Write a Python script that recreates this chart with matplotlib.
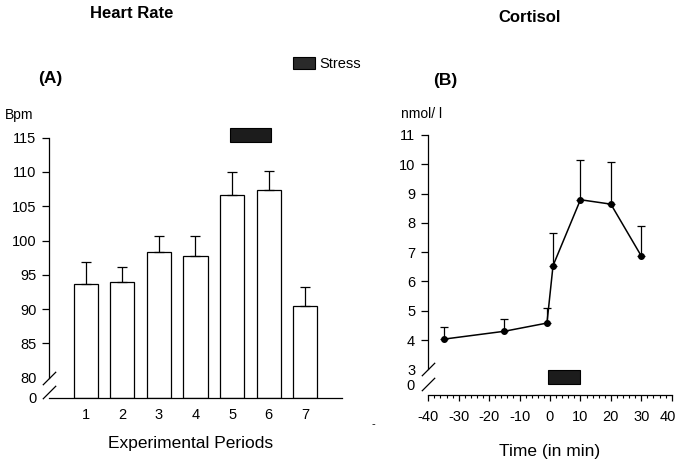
import numpy as np
import matplotlib
matplotlib.use("Agg")
import matplotlib.pyplot as plt
from matplotlib.path import Path
from matplotlib.patches import Rectangle
from matplotlib.transforms import ScaledTranslation

plt.rcParams['font.family'] = ['Liberation Sans', 'DejaVu Sans']

# ---------------- data ----------------
periods = [1, 2, 3, 4, 5, 6, 7]
hr_mean = [93.7, 93.9, 98.4, 97.7, 106.6, 107.4, 90.5]
hr_err = [3.2, 2.3, 2.3, 2.9, 3.4, 2.8, 2.7]
hr_yticks = [85, 90, 95, 100, 105, 110, 115]
hr_stress = (5, 6)

time_min = [-35, -15, -1, 1, 10, 20, 30]
cort_mean = [4.03, 4.30, 4.58, 6.54, 8.79, 8.64, 6.87]
cort_err = [0.40, 0.42, 0.50, 1.10, 1.37, 1.43, 1.02]
cort_yticks = [4, 5, 6, 7, 8, 9, 10, 11]
time_ticks = [-40, -30, -20, -10, 0, 10, 20, 30, 40]
cort_stress = (0, 10)

W, H = 678, 465
fig = plt.figure(figsize=(W / 100, H / 100), dpi=100)


def px(x, y):
    return x / W, 1 - y / H


def broken(brk, gap):
    def fwd(y):
        y = np.asarray(y, float)
        return np.where(y < brk, y * gap / brk, y - brk + gap)

    def inv(u):
        u = np.asarray(u, float)
        return np.where(u < gap, u * brk / gap, u - gap + brk)
    return fwd, inv


slash = Path([(-1, -1), (1, 1)], [Path.MOVETO, Path.LINETO])


def break_mark(ax, yval, dy_px=0.0):
    off = ScaledTranslation(0, dy_px / 100, fig.dpi_scale_trans)
    ax.plot([0], [yval], marker=slash, ms=9.6, mew=0.9, color='black',
            transform=ax.get_yaxis_transform() + off, clip_on=False)


# ---------------- panel A ----------------
axA = fig.add_axes([49.3 / W, (H - 397.7) / H, (341.7 - 49.3) / W, (397.7 - 137.7) / H])
axA.set_yscale('function', functions=broken(80, 2.92))
axA.set_xlim(0, 8)
axA.set_ylim(0, 115)
axA.bar(periods, hr_mean, width=0.66, color='white', edgecolor='black', linewidth=0.9, zorder=2)
axA.errorbar(periods, hr_mean, yerr=[np.zeros(len(hr_err)), hr_err], fmt='none',
             ecolor='black', elinewidth=0.9, capsize=3.6, capthick=0.9, zorder=3)
for s in ['top', 'right']:
    axA.spines[s].set_visible(False)
axA.spines['left'].set_bounds(80, 115)
for s in ['left', 'bottom']:
    axA.spines[s].set_linewidth(0.9)
axA.set_yticks(hr_yticks)
axA.set_yticklabels([str(v) for v in hr_yticks])
axA.set_yticks([0, 80], minor=True)
axA.set_yticklabels(['0', '80'], minor=True)
axA.tick_params(axis='y', which='major', length=4.8, width=0.9, pad=4.5, labelsize=10.5)
axA.tick_params(axis='y', which='minor', length=0, pad=9.3, labelsize=10.5)
axA.set_xticks(periods)
axA.set_xticklabels([str(p) for p in periods])
axA.tick_params(axis='x', length=0, pad=7.5, labelsize=10.5)
break_mark(axA, 80)
break_mark(axA, 0, 5.7)
axA.add_patch(Rectangle((hr_stress[0] - 0.05, 114.4), hr_stress[1] - hr_stress[0] + 0.12, 2.0,
                        facecolor='#1c1c1c', edgecolor='black', linewidth=0.8, clip_on=False, zorder=4))

# ---------------- panel B ----------------
axB = fig.add_axes([428.3 / W, (H - 384) / H, (671.7 - 428.3) / W, (384 - 135) / H])
axB.set_yscale('function', functions=broken(3, 0.5))
axB.set_xlim(-40, 40)
axB.set_ylim(0, 11)
axB.errorbar(time_min, cort_mean, yerr=[np.zeros(len(cort_err)), cort_err], fmt='none',
             ecolor='black', elinewidth=0.9, capsize=2.6, capthick=0.9, zorder=2)
axB.plot(time_min, cort_mean, '-o', color='black', lw=1.1, ms=4, zorder=3)
for s in ['top', 'right']:
    axB.spines[s].set_visible(False)
axB.spines['left'].set_bounds(3, 11)
axB.spines['bottom'].set_position(('outward', 8))
for s in ['left', 'bottom']:
    axB.spines[s].set_linewidth(0.9)
axB.set_yticks(cort_yticks)
axB.set_yticklabels([str(v) for v in cort_yticks])
axB.set_yticks([0, 3], minor=True)
axB.set_yticklabels(['0', '3'], minor=True)
axB.tick_params(axis='y', which='major', length=5, width=0.9, pad=4.5, labelsize=10.5)
axB.tick_params(axis='y', which='minor', length=0, pad=9.5, labelsize=10.5)
axB.set_xticks(time_ticks)
# last label drawn separately so it stays inside the figure
axB.set_xticklabels([str(t) for t in time_ticks[:-1]] + [''])
axB.annotate(str(time_ticks[-1]), xy=(time_ticks[-1], 0), xycoords=('data', 'axes fraction'),
             xytext=(-2.5, -(8 + 4.5 + 6)), textcoords='offset points',
             ha='center', va='top', fontsize=10.5, annotation_clip=False)
axB.set_xticks(np.arange(-40, 41, 2), minor=True)
axB.tick_params(axis='x', which='major', length=4.5, width=0.9, pad=6, labelsize=10.5)
axB.tick_params(axis='x', which='minor', length=2.5, width=0.8)
break_mark(axB, 3)
break_mark(axB, 0)
axB.add_patch(Rectangle((cort_stress[0] - 0.7, 0.0), cort_stress[1] - cort_stress[0] + 0.7, 2.9,
                        facecolor='#1c1c1c', edgecolor='black', linewidth=0.8, clip_on=False, zorder=4))

# ---------------- texts ----------------
fig.text(*px(132, 14), 'Heart Rate', ha='center', va='center', fontsize=12, fontweight='bold')
fig.text(*px(530, 17), 'Cortisol', ha='center', va='center', fontsize=12, fontweight='bold')
fig.text(*px(50, 78), '(A)', ha='center', va='center', fontsize=12.5, fontweight='bold')
fig.text(*px(445, 81), '(B)', ha='center', va='center', fontsize=12.5, fontweight='bold')
fig.text(*px(5, 115), 'Bpm', ha='left', va='center', fontsize=10)
fig.text(*px(401, 114.5), 'nmol/ l', ha='left', va='center', fontsize=10)
fig.text(*px(191, 443), 'Experimental Periods', ha='center', va='center', fontsize=12.5)
fig.text(*px(550, 451), 'Time (in min)', ha='center', va='center', fontsize=12.5)
fig.text(*px(373, 424), '-', ha='center', va='center', fontsize=8)

# legend
fig.patches.append(Rectangle(px(292.5, 69), 22 / W, 12 / H, transform=fig.transFigure,
                             facecolor='#2a2a2a', edgecolor='black', linewidth=0.8))
fig.text(*px(319, 64), 'Stress', ha='left', va='center', fontsize=10.5)

fig.savefig('out.png', dpi=100)
